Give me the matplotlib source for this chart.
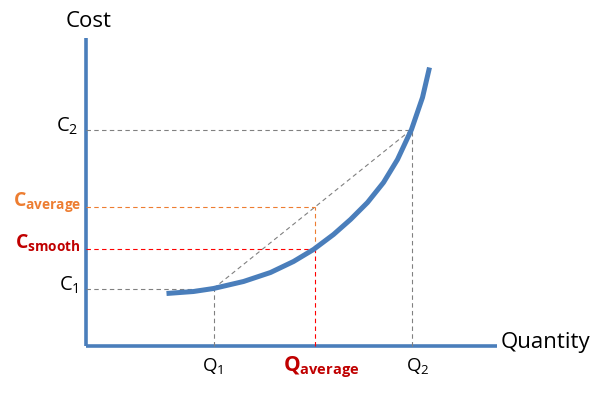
import numpy as np
import matplotlib.pyplot as plt

plt.rcParams["font.family"] = ["Open Sans", "DejaVu Sans"]
plt.rcParams["mathtext.fontset"] = "custom"
plt.rcParams["mathtext.rm"] = "Open Sans"
plt.rcParams["mathtext.it"] = "Open Sans"
plt.rcParams["mathtext.bf"] = "Open Sans:bold"

# cost curve (quantity, cost)
curve_q = [80, 107, 127, 157, 184, 207, 227, 247, 264, 281, 297, 311, 325, 336, 343]
curve_c = [52, 54, 57, 64, 73, 84, 96, 111, 126, 143, 163, 186, 216, 248, 278]

# marked points
q1, q2 = 127, 325
c1, c2 = 57, 216
q_avg = 228
c_smooth = 97
c_avg = c1 + (c2 - c1) * (q_avg - q1) / (q2 - q1)

blue = "#4A7EBB"
grey = "#808080"
orange = "#ED7D31"
red = "#FF0000"
dark_red = "#C00000"

fig = plt.figure(figsize=(6.05, 3.97), dpi=100)
ax = fig.add_axes([0, 0, 1, 1])
# half-pixel offset so thin guides land on whole pixels
ax.set_xlim(-86.5, 518.5)
ax.set_ylim(-51.5, 345.5)
ax.axis("off")

# axes
ax.plot([0, 0], [0, 308], color=blue, linewidth=2.6, solid_capstyle="butt")
ax.plot([0, 410], [0, 0], color=blue, linewidth=2.6, solid_capstyle="butt")

dash = dict(linestyle=(0, (4, 3)), linewidth=0.8)

# grey guides for Q1/C1 and Q2/C2
ax.plot([0, q1], [c1, c1], color=grey, **dash)
ax.plot([q1, q1], [0, c1], color=grey, **dash)
ax.plot([0, q2], [c2, c2], color=grey, **dash)
ax.plot([q2, q2], [0, c2], color=grey, **dash)
ax.plot([q1, q2], [c1, c2], color=grey, **dash)

# average and smooth guides
ax.plot([0, q_avg], [c_avg, c_avg], color=orange, **dash)
ax.plot([q_avg, q_avg], [c_smooth, c_avg], color=orange, **dash)
ax.plot([0, q_avg], [c_smooth, c_smooth], color=red, **dash)
ax.plot([q_avg, q_avg], [0, c_smooth], color=red, **dash)

# curve
ax.plot(curve_q, curve_c, color=blue, linewidth=3.6, solid_capstyle="butt",
        solid_joinstyle="round", zorder=5)

# labels
ax.text(2, 324, "Cost", fontsize=16, ha="center", va="center")
ax.text(414, 3, "Quantity", fontsize=16, ha="left", va="center")

ax.text(-8, c2 + 3, r"$\mathregular{C_2}$", fontsize=14.5, ha="right", va="center")
ax.text(-5, c_avg + 5, r"$\mathbf{C_{average}}$", fontsize=14,
        ha="right", va="center", color=orange)
ax.text(-6, c_smooth + 5, r"$\mathbf{C_{smooth}}$", fontsize=14,
        ha="right", va="center", color=dark_red)
ax.text(-8, c1 + 3, r"$\mathregular{C_1}$", fontsize=14.5, ha="right", va="center")

ax.text(q1 - 1, -20, r"$\mathregular{Q_1}$", fontsize=13.5, ha="center", va="center")
ax.text(q_avg + 7, -22, r"$\mathbf{Q_{average}}$", fontsize=15,
        ha="center", va="center", color=dark_red)
ax.text(q2 + 6, -20, r"$\mathregular{Q_2}$", fontsize=13.5, ha="center", va="center")

fig.savefig("out.png", dpi=100)
